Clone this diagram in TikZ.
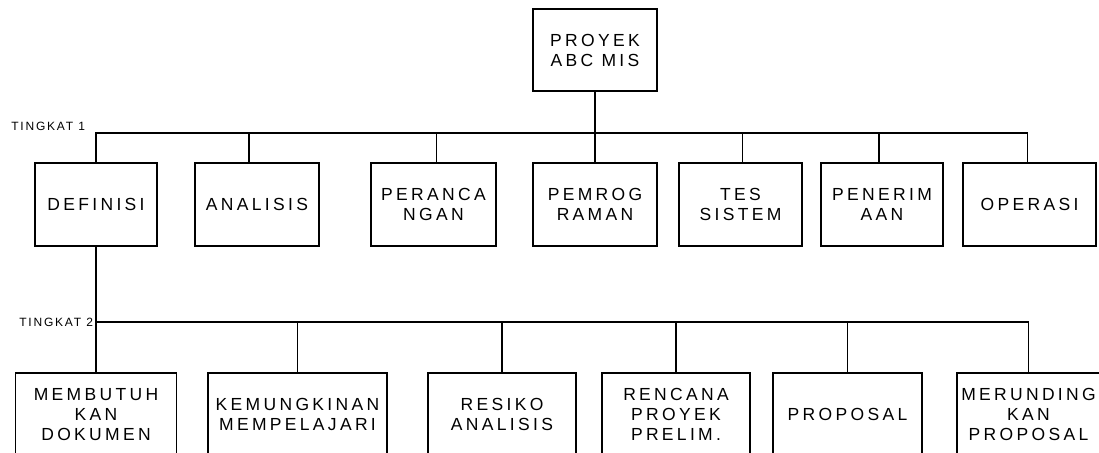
\documentclass[tikz,border=0pt]{standalone}
\usepackage{fontspec}
\setmainfont{Liberation Sans}
\newfontfamily\boxfont{Liberation Sans}[LetterSpace=19]
\newfontfamily\levelfont{Liberation Sans}[LetterSpace=15]

\begin{document}
\begin{tikzpicture}[x=1pt,y=-1pt,line width=1.9pt,
      box style/.style={rectangle,draw=black,inner sep=0pt,align=center,
        minimum height=83pt,font=\boxfont\fontsize{17.5}{20}\selectfont},
      level style/.style={inner sep=0pt,
        font=\levelfont\fontsize{12}{14}\selectfont}
      ]
      \useasboundingbox (0,0) rectangle (1099,452);

      \node[box style,minimum width=124pt,minimum height=82pt] (proyek) at (595,50) {PROYEK\\ABC MIS};

      \node[box style,minimum width=122pt] (definisi) at (96,204.5) {DEFINISI};
      \node[box style,minimum width=124pt] (analisis) at (257,204.5) {ANALISIS};
      \node[box style,minimum width=125pt] (perancangan) at (433.5,204.5) {PERANCA\\NGAN};
      \node[box style,minimum width=124pt] (pemrograman) at (595,204.5) {PEMROG\\RAMAN};
      \node[box style,minimum width=123pt] (tes) at (740.5,204.5) {TES\\SISTEM};
      \node[box style,minimum width=122pt] (penerimaan) at (882,204.5) {PENERIM\\AAN};
      \node[box style,minimum width=133pt] (operasi) at (1029.5,204.5) {OPERASI};

      \node[box style,minimum width=161pt] (membutuh) at (96,414.5) {MEMBUTUH\\KAN\\DOKUMEN};
      \node[box style,minimum width=179pt] (kemungkinan) at (297.5,414.5) {KEMUNGKINAN\\MEMPELAJARI};
      \node[box style,minimum width=148pt] (resiko) at (502,414.5) {RESIKO\\ANALISIS};
      \node[box style,minimum width=148pt] (rencana) at (676,414.5) {RENCANA\\PROYEK\\PRELIM.};
      \node[box style,minimum width=149pt] (proposal) at (847.5,414.5) {PROPOSAL};
      \node[box style,minimum width=143pt] (merunding) at (1028.5,414.5) {MERUNDING\\KAN\\PROPOSAL};

      \node[level style,anchor=east] (tingkat1) at (86,126) {TINGKAT 1};
      \node[level style,anchor=east] (tingkat2) at (94,322) {TINGKAT 2};

      % tingkat 1
      \coordinate (bus1) at (595,133);
      \draw (proyek) -- (bus1);
      \foreach \n/\dx in {definisi/0,analisis/-8,perancangan/3,pemrograman/0,
        tes/2,penerimaan/-3,operasi/-2}
        \draw (bus1) -| ([xshift=\dx pt]\n.north);

      % tingkat 2
      \coordinate (bus2) at (96,322);
      \draw (definisi) -- (membutuh);
      \foreach \n in {kemungkinan,resiko,rencana,proposal,merunding}
        \draw (bus2) -| (\n.north);

    \end{tikzpicture}
\end{document}
